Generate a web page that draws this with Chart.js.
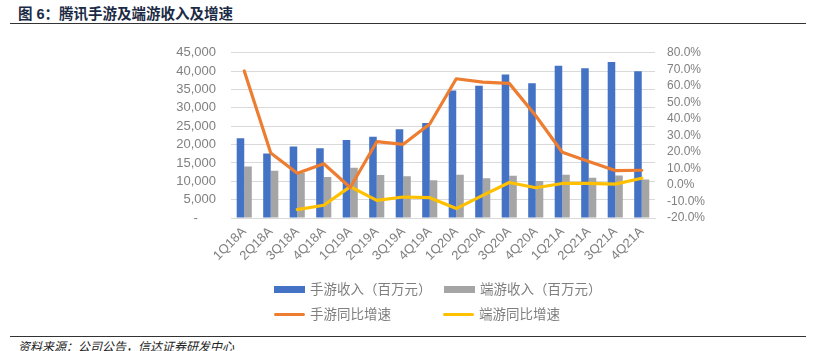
<!DOCTYPE html>
<html>
<head>
<meta charset="utf-8">
<script src="https://cdn.jsdelivr.net/npm/chart.js@4.4.0/dist/chart.umd.min.js"></script>
<style>
  html,body{margin:0;padding:0;background:#fff;}
  body{width:814px;height:351px;position:relative;overflow:hidden;font-family:"Liberation Sans","Noto Sans CJK SC",sans-serif;}
  #title{position:absolute;left:18px;top:4px;font-size:14.5px;font-weight:bold;color:#1c2b45;font-family:"Liberation Sans","Noto Sans CJK SC",sans-serif;white-space:nowrap;line-height:20px;}
  #topline{position:absolute;left:10px;right:8px;top:23px;height:0;border-top:1.5px solid #333;}
  #botline{position:absolute;left:10px;right:8px;top:336px;height:0;border-top:1px solid #333;}
  #source{position:absolute;left:18px;top:339px;font-size:12px;line-height:14px;font-style:italic;color:#222;font-family:"Noto Sans CJK SC",sans-serif;white-space:nowrap;}
  #wrap{position:absolute;left:0;top:30px;width:814px;height:300px;}
  .lg{position:absolute;font-size:13.5px;color:#7f7f7f;font-family:"Noto Sans CJK SC",sans-serif;white-space:nowrap;line-height:16px;}
  .sw{position:absolute;}
</style>
</head>
<body>
<div id="title">图 6：腾讯手游及端游收入及增速</div>
<div id="topline"></div>
<div id="wrap"><canvas id="c" width="814" height="300"></canvas></div>
<div id="legend"></div>
<div id="botline"></div>
<div id="source">资料来源：公司公告，信达证券研发中心</div>
<script>
const categories = ['1Q18A','2Q18A','3Q18A','4Q18A','1Q19A','2Q19A','3Q19A','4Q19A','1Q20A','2Q20A','3Q20A','4Q20A','1Q21A','2Q21A','3Q21A','4Q21A'];
const mobileRevenue = [21700,17600,19500,19000,21250,22100,24200,25900,34700,36000,39100,36700,41500,40800,42500,40000];
const pcRevenue = [14000,12900,12300,11200,13700,11700,11400,10300,11800,10800,11500,10100,11800,10950,11600,10500];
const mobileGrowth = [69.0,19.4,7.1,12.8,-1.5,26.2,24.6,36.9,64.3,62.3,61.5,41.9,19.8,14.2,8.7,8.9];
const pcGrowth = [null,null,-14.9,-12.3,-1.0,-9.3,-7.3,-7.7,-14.3,-6.3,1.5,-1.7,0.9,0.9,0.5,4.1];
const seriesNames = ['手游收入（百万元）','端游收入（百万元）','手游同比增速','端游同比增速'];
const seriesColors = ['#4472C4','#A5A5A5','#ED7D31','#FFC000'];

// HTML legend
const legendItems = [
  {name: seriesNames[0], color: seriesColors[0], type:'bar', x:274, y:289},
  {name: seriesNames[1], color: seriesColors[1], type:'bar', x:444, y:289},
  {name: seriesNames[2], color: seriesColors[2], type:'line', x:274, y:314},
  {name: seriesNames[3], color: seriesColors[3], type:'line', x:443, y:314}
];
const lg = document.getElementById('legend');
legendItems.forEach(it => {
  const s = document.createElement('div');
  s.className = 'sw';
  s.style.left = it.x + 'px';
  s.style.width = '31px';
  s.style.background = it.color;
  if (it.type === 'bar') { s.style.top = (it.y - 3) + 'px'; s.style.height = '7px'; }
  else { s.style.top = (it.y - 1.5) + 'px'; s.style.height = '3px'; s.style.borderRadius = '2px'; }
  lg.appendChild(s);
  const t = document.createElement('div');
  t.className = 'lg';
  t.textContent = it.name;
  t.style.left = (it.x + 36) + 'px';
  t.style.top = (it.y - 9) + 'px';
  lg.appendChild(t);
});

const tickColor = '#808080';
new Chart(document.getElementById('c'), {
  data: {
    labels: categories,
    datasets: [
      {type:'line', label: seriesNames[2], data: mobileGrowth, yAxisID:'y1', borderColor: seriesColors[2], backgroundColor: seriesColors[2], borderWidth:3.2, pointRadius:0, tension:0, order:0, borderCapStyle:'round', borderJoinStyle:'round'},
      {type:'line', label: seriesNames[3], data: pcGrowth, yAxisID:'y1', borderColor: seriesColors[3], backgroundColor: seriesColors[3], borderWidth:3.2, pointRadius:0, tension:0, order:0, borderCapStyle:'round', borderJoinStyle:'round'},
      {type:'bar', label: seriesNames[0], data: mobileRevenue, yAxisID:'y', backgroundColor: seriesColors[0], order:1, categoryPercentage:0.57, barPercentage:1.0},
      {type:'bar', label: seriesNames[1], data: pcRevenue, yAxisID:'y', backgroundColor: seriesColors[1], order:1, categoryPercentage:0.57, barPercentage:1.0}
    ]
  },
  options: {
    responsive:false,
    animation:false,
    layout:{padding:{top:22, left:0, right:0, bottom:0}},
    plugins:{legend:{display:false}, tooltip:{enabled:false}},
    scales:{
      x:{
        grid:{display:false, drawTicks:false},
        border:{display:true, color:'#d9d9d9', width:1},
        ticks:{color:tickColor, font:{family:'"Liberation Sans", sans-serif', size:13}, minRotation:45, maxRotation:45, autoSkip:false, padding:6},
        afterFit(s){ s.height = 112; }
      },
      y:{
        position:'left', min:0, max:45000,
        grid:{color:'#d9d9d9', lineWidth:1, drawTicks:false},
        border:{display:false},
        ticks:{stepSize:5000, autoSkip:false, color:tickColor, font:{family:'"Liberation Sans", sans-serif', size:13}, padding:15,
          callback(v){ return v === 0 ? '-     ' : v.toLocaleString('en-US'); }},
        afterFit(s){ s.width = 231; }
      },
      y1:{
        position:'right', min:-20, max:80,
        grid:{display:false, drawTicks:false},
        border:{display:false},
        ticks:{stepSize:10, autoSkip:false, color:tickColor, font:{family:'"Liberation Sans", sans-serif', size:12}, padding:12,
          callback(v){ return v.toFixed(1) + '%'; }},
        afterFit(s){ s.width = 159; }
      }
    }
  }
});
</script>
</body>
</html>
